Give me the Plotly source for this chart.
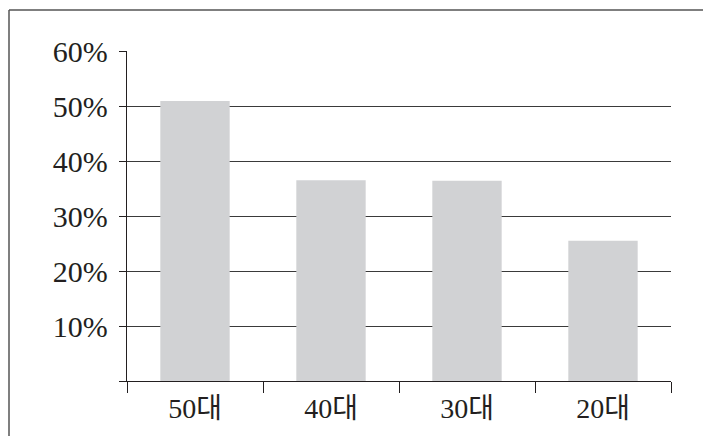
import plotly.graph_objects as go

categories = ["50대", "40대", "30대", "20대"]
values = [50.9, 36.5, 36.4, 25.5]
y_ticks = [0, 10, 20, 30, 40, 50, 60]
y_ticktext = ["", "10%", "20%", "30%", "40%", "50%", "60%"]

W, H = 703, 436
L, T = 127, 51
pw, ph = 671 - 127, 381 - 51
R = W - L - pw
B = H - T - ph

def px_x(sx):
    return (sx - L) / pw

def px_y(sy):
    return (T + ph - sy) / ph

fig = go.Figure(go.Bar(
    x=categories, y=values,
    marker=dict(color="#d1d2d4", line=dict(width=0)),
    width=0.51,
))

yfont = dict(family="Liberation Serif, Times New Roman, serif", size=30, color="#231f20")
xfont = dict(family="Liberation Serif, Noto Sans CJK KR, serif", size=28, color="#231f20")

frame = dict(color="#555555", width=1.5)
fig.update_layout(
    width=W, height=H,
    margin=dict(l=L, r=R, t=T, b=B, pad=0, autoexpand=False),
    paper_bgcolor="white", plot_bgcolor="white",
    showlegend=False,
    xaxis=dict(
        showgrid=False, showline=True, linecolor="#231f20", linewidth=1.3,
        ticks="outside", ticklen=11, tickwidth=1.3, tickcolor="#231f20",
        tickson="boundaries", tickfont=xfont, ticklabelstandoff=2,
        automargin=False,
    ),
    yaxis=dict(
        range=[0, 60], tickvals=y_ticks, ticktext=y_ticktext,
        showgrid=True, gridcolor="#3a3a3a", gridwidth=1.3,
        showline=True, linecolor="#231f20", linewidth=1.3,
        ticks="outside", ticklen=7, tickwidth=1.3, tickcolor="#231f20",
        tickfont=yfont, zeroline=False, ticklabelstandoff=5,
        automargin=False,
    ),
    shapes=[
        dict(type="line", xref="paper", yref="paper",
             x0=px_x(9), x1=px_x(9), y0=px_y(10), y1=px_y(H + 5), line=frame),
        dict(type="line", xref="paper", yref="paper",
             x0=px_x(9), x1=px_x(W + 5), y0=px_y(10), y1=px_y(10), line=frame),
    ],
)

fig.write_html(
    "out.html",
    config={"displayModeBar": False},
    post_script="document.body.style.margin='0';document.body.style.overflow='hidden';",
)
